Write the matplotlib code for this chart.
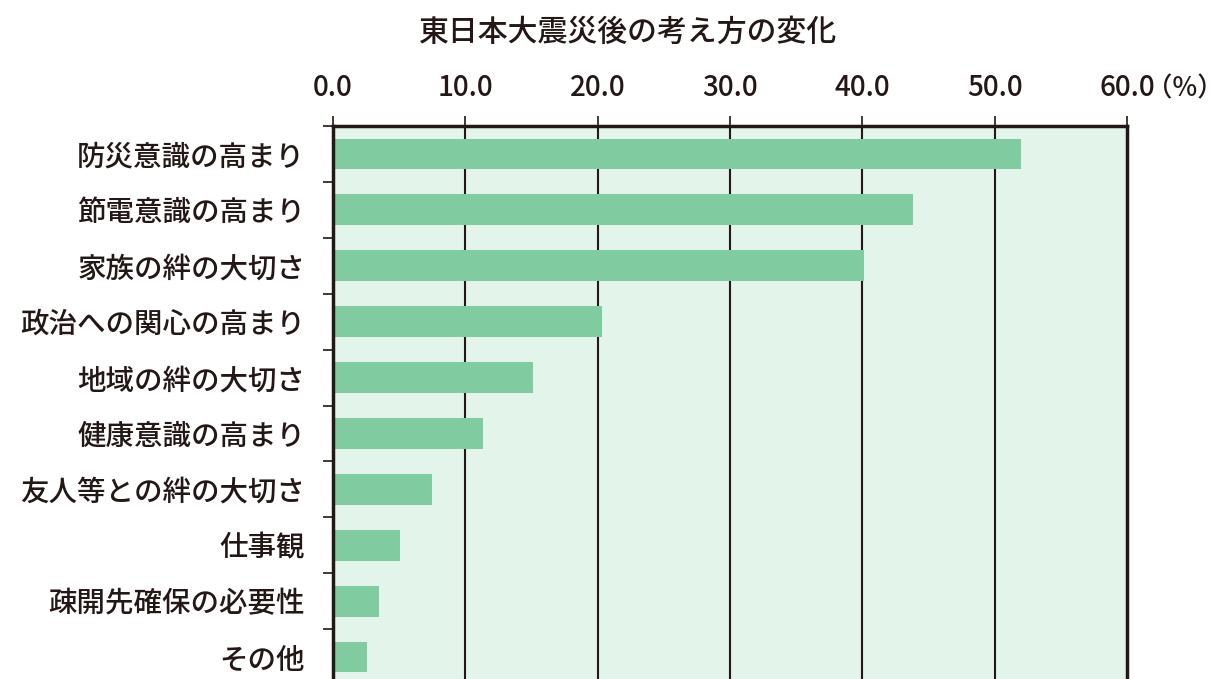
import matplotlib
matplotlib.use("Agg")
import matplotlib.pyplot as plt
import numpy as np

plt.rcParams['font.family'] = ['Noto Sans CJK JP', 'DejaVu Sans']
plt.rcParams['font.weight'] = 'medium'

# data (%)
categories = ['防災意識の高まり', '節電意識の高まり', '家族の絆の大切さ', '政治への関心の高まり',
              '地域の絆の大切さ', '健康意識の高まり', '友人等との絆の大切さ', '仕事観',
              '疎開先確保の必要性', 'その他']
values = [52.0, 43.8, 40.1, 20.3, 15.1, 11.3, 7.5, 5.1, 3.5, 2.6]
xticks = [0, 10, 20, 30, 40, 50, 60]
xtick_labels = ['0.0', '10.0', '20.0', '30.0', '40.0', '50.0', '60.0']

dark = '#231815'
bar_color = '#80CCA0'
bg_color = '#E3F4EA'

fig = plt.figure(figsize=(12.12, 6.79), dpi=100)
ax = fig.add_axes([333 / 1212, -6 / 679, 794 / 1212, 559 / 679])
ax.set_facecolor(bg_color)

y = np.arange(len(categories)) + 0.5
ax.barh(y, values, height=0.55, color=bar_color, zorder=2)

ax.set_xlim(0, 60)
ax.set_ylim(len(categories), 0)

# vertical grid lines
for t in xticks[1:-1]:
    ax.axvline(t, color=dark, linewidth=1.5, zorder=1)

for side in ['top', 'left', 'right', 'bottom']:
    ax.spines[side].set_color(dark)
    ax.spines[side].set_linewidth(2.5)
    ax.spines[side].set_zorder(3)

ax.xaxis.tick_top()
ax.set_xticks(xticks)
ax.set_xticklabels(xtick_labels, fontsize=20, color=dark)
ax.tick_params(axis='x', direction='out', length=7, width=1.2, color=dark, pad=10)

ax.set_yticks(y)
ax.set_yticklabels(categories, fontsize=20.5, color=dark)
ax.set_yticks(np.arange(len(categories) + 1), minor=True)
ax.tick_params(axis='y', which='major', length=0, pad=20)
ax.tick_params(axis='y', which='minor', direction='out', length=7, width=1.2, color=dark)

# unit label next to the last tick
ax.annotate('（%）', xy=(60, 1), xycoords=('data', 'axes fraction'),
            xytext=(14, 17), textcoords='offset points', fontsize=19, color=dark,
            ha='left', va='bottom')

fig.text(628 / 1212, 1 - 32 / 679, '東日本大震災後の考え方の変化', fontsize=21.5,
         color=dark, ha='center', va='center')

fig.savefig('out.png', dpi=100)
